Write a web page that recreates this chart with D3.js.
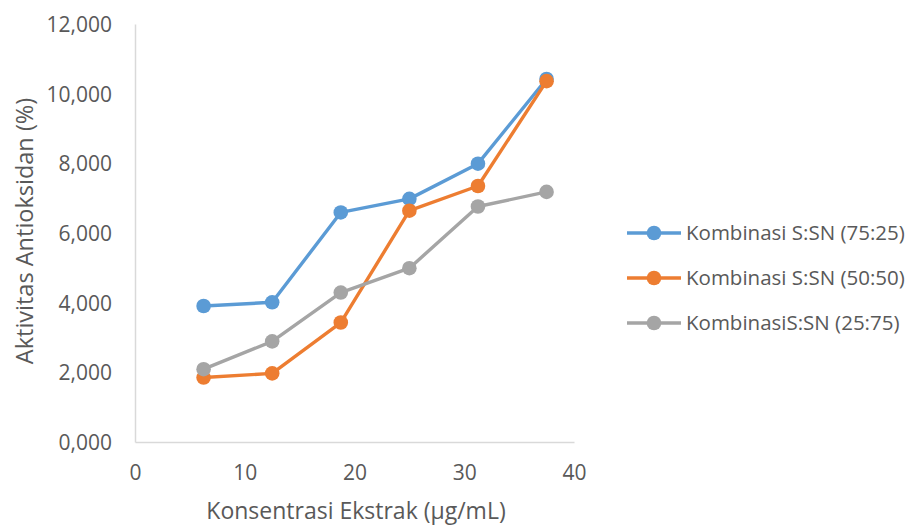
<!DOCTYPE html>
<html>
<head>
<meta charset="utf-8">
<script src="https://cdn.jsdelivr.net/npm/d3@7"></script>
<style>
  body { margin: 0; background: #fff; }
  svg { display: block; }
  text { font-family: "Open Sans", sans-serif; fill: #595959; }
</style>
</head>
<body>
<svg id="chart" width="911" height="525"></svg>
<script>
const xValues = [6.25, 12.5, 18.75, 25, 31.25, 37.5];
const seriesNames = ["Kombinasi S:SN (75:25)", "Kombinasi S:SN (50:50)", "KombinasiS:SN (25:75)"];
const series1 = [3.905, 4.01, 6.59, 6.98, 7.99, 10.42];
const series2 = [1.85, 1.97, 3.43, 6.64, 7.35, 10.36];
const series3 = [2.09, 2.89, 4.29, 4.99, 6.76, 7.18];
const colors = ["#5b9bd5", "#ed7d31", "#a5a5a5"];
const xTicks = [0, 10, 20, 30, 40];
const yTicks = [0, 2, 4, 6, 8, 10, 12];
const xTitle = "Konsentrasi Ekstrak (µg/mL)";
const yTitle = "Aktivitas Antioksidan (%)";

const allSeries = [series1, series2, series3];
const svg = d3.select("#chart");
const x = d3.scaleLinear().domain([0, 40]).range([135, 574]);
const y = d3.scaleLinear().domain([0, 12]).range([442, 24]);
const locale = d3.formatLocale({ decimal: ",", thousands: ".", grouping: [3], currency: ["", ""] });
const fmt = locale.format(".3f");

// axes
const xAxis = svg.append("g").attr("transform", `translate(0,${y(0)})`)
  .call(d3.axisBottom(x).tickValues(xTicks).tickSize(0).tickPadding(23).tickFormat(d3.format("d")));
const yAxis = svg.append("g").attr("transform", `translate(${x(0)},0)`)
  .call(d3.axisLeft(y).tickValues(yTicks).tickSize(0).tickPadding(23).tickFormat(fmt));
[xAxis, yAxis].forEach(g => {
  g.select(".domain").attr("stroke", "#d9d9d9").attr("stroke-width", 1.5);
  g.selectAll("text").style("font-size", "21px").attr("fill", "#595959");
});
yAxis.selectAll("text").attr("dy", "0.35em");

// titles
svg.append("text").attr("x", 356).attr("y", 519).attr("text-anchor", "middle")
  .style("font-size", "23px").text(xTitle);
svg.append("text").attr("transform", "translate(33,231) rotate(-90)").attr("text-anchor", "middle")
  .style("font-size", "23.5px").text(yTitle);

// lines
const line = d3.line().x((d, i) => x(xValues[i])).y(d => y(d));
allSeries.forEach((s, k) => {
  svg.append("path").datum(s).attr("d", line).attr("fill", "none")
    .attr("stroke", colors[k]).attr("stroke-width", 3.4).attr("stroke-linejoin", "round");
  svg.append("g").selectAll("circle").data(s).join("circle")
    .attr("cx", (d, i) => x(xValues[i])).attr("cy", d => y(d)).attr("r", 7.3)
    .attr("fill", colors[k]);
});

// legend
const legend = svg.append("g");
seriesNames.forEach((name, k) => {
  const ly = 233 + k * 45;
  legend.append("line").attr("x1", 627).attr("x2", 681).attr("y1", ly).attr("y2", ly)
    .attr("stroke", colors[k]).attr("stroke-width", 3.4);
  legend.append("circle").attr("cx", 654).attr("cy", ly).attr("r", 7.3).attr("fill", colors[k]);
  legend.append("text").attr("x", 686).attr("y", ly).attr("dy", "0.35em")
    .style("font-size", "20.5px").text(name);
});
</script>
</body>
</html>
